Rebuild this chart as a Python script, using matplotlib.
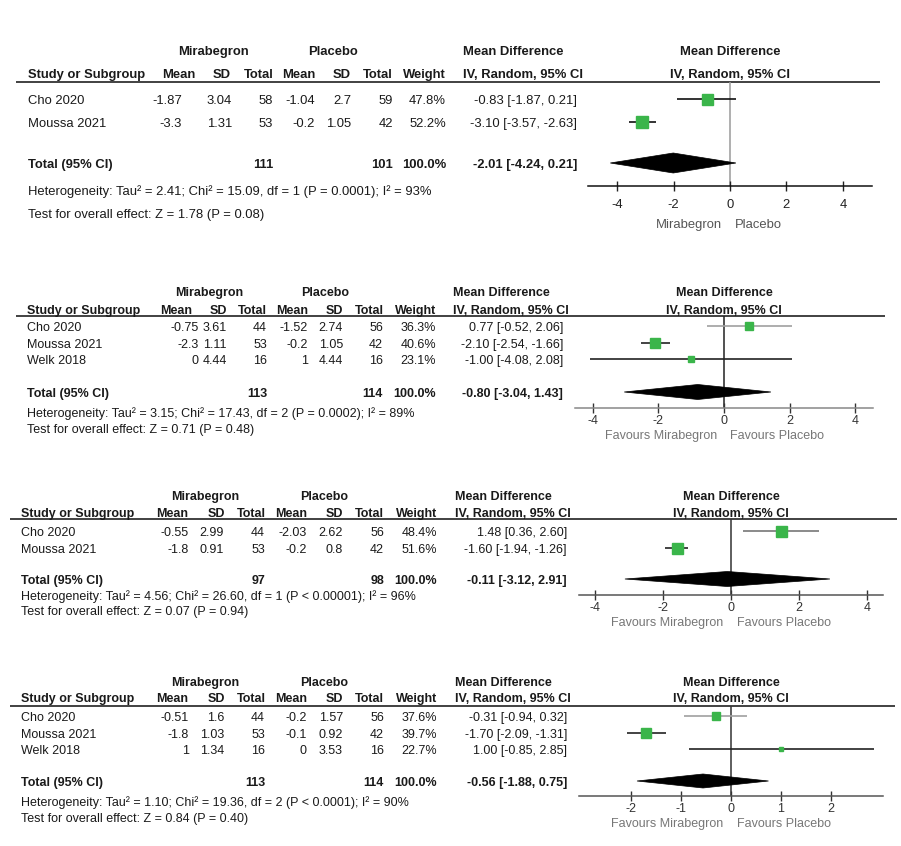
import matplotlib
matplotlib.use("Agg")
import matplotlib.pyplot as plt
from matplotlib import font_manager as fm
from matplotlib.patches import Polygon

W, H = 901, 846

# ---------------- data ----------------
p1_studies = ["Cho 2020", "Moussa 2021"]
p1_mir_mean = [-1.87, -3.3]
p1_mir_sd = [3.04, 1.31]
p1_mir_n = [58, 53]
p1_pla_mean = [-1.04, -0.2]
p1_pla_sd = [2.7, 1.05]
p1_pla_n = [59, 42]
p1_weight = [47.8, 52.2]
p1_md = [-0.83, -3.10]
p1_lo = [-1.87, -3.57]
p1_hi = [0.21, -2.63]
p1_total = [-2.01, -4.24, 0.21]
p1_total_n = [111, 101]
p1_het = "Heterogeneity: Tau² = 2.41; Chi² = 15.09, df = 1 (P = 0.0001); I² = 93%"
p1_test = "Test for overall effect: Z = 1.78 (P = 0.08)"
p1_ticks = [-4, -2, 0, 2, 4]
p1_favours = ["Mirabegron", "Placebo"]

p2_studies = ["Cho 2020", "Moussa 2021", "Welk 2018"]
p2_mir_mean = [-0.75, -2.3, 0]
p2_mir_sd = [3.61, 1.11, 4.44]
p2_mir_n = [44, 53, 16]
p2_pla_mean = [-1.52, -0.2, 1]
p2_pla_sd = [2.74, 1.05, 4.44]
p2_pla_n = [56, 42, 16]
p2_weight = [36.3, 40.6, 23.1]
p2_md = [0.77, -2.10, -1.00]
p2_lo = [-0.52, -2.54, -4.08]
p2_hi = [2.06, -1.66, 2.08]
p2_total = [-0.80, -3.04, 1.43]
p2_total_n = [113, 114]
p2_het = "Heterogeneity: Tau² = 3.15; Chi² = 17.43, df = 2 (P = 0.0002); I² = 89%"
p2_test = "Test for overall effect: Z = 0.71 (P = 0.48)"
p2_ticks = [-4, -2, 0, 2, 4]
p2_favours = ["Favours Mirabegron", "Favours Placebo"]

p3_studies = ["Cho 2020", "Moussa 2021"]
p3_mir_mean = [-0.55, -1.8]
p3_mir_sd = [2.99, 0.91]
p3_mir_n = [44, 53]
p3_pla_mean = [-2.03, -0.2]
p3_pla_sd = [2.62, 0.8]
p3_pla_n = [56, 42]
p3_weight = [48.4, 51.6]
p3_md = [1.48, -1.60]
p3_lo = [0.36, -1.94]
p3_hi = [2.60, -1.26]
p3_total = [-0.11, -3.12, 2.91]
p3_total_n = [97, 98]
p3_het = "Heterogeneity: Tau² = 4.56; Chi² = 26.60, df = 1 (P < 0.00001); I² = 96%"
p3_test = "Test for overall effect: Z = 0.07 (P = 0.94)"
p3_ticks = [-4, -2, 0, 2, 4]
p3_favours = ["Favours Mirabegron", "Favours Placebo"]

p4_studies = ["Cho 2020", "Moussa 2021", "Welk 2018"]
p4_mir_mean = [-0.51, -1.8, 1]
p4_mir_sd = [1.6, 1.03, 1.34]
p4_mir_n = [44, 53, 16]
p4_pla_mean = [-0.2, -0.1, 0]
p4_pla_sd = [1.57, 0.92, 3.53]
p4_pla_n = [56, 42, 16]
p4_weight = [37.6, 39.7, 22.7]
p4_md = [-0.31, -1.70, 1.00]
p4_lo = [-0.94, -2.09, -0.85]
p4_hi = [0.32, -1.31, 2.85]
p4_total = [-0.56, -1.88, 0.75]
p4_total_n = [113, 114]
p4_het = "Heterogeneity: Tau² = 1.10; Chi² = 19.36, df = 2 (P < 0.0001); I² = 90%"
p4_test = "Test for overall effect: Z = 0.84 (P = 0.40)"
p4_ticks = [-2, -1, 0, 1, 2]
p4_favours = ["Favours Mirabegron", "Favours Placebo"]

# ---------------- fonts ----------------
names = {f.name for f in fm.fontManager.ttflist}
if "Liberation Sans Narrow" in names:
    narrow_font = "Liberation Sans Narrow"
    narrow_size = 11.3
else:
    narrow_font = "Liberation Sans"
    narrow_size = 9.4
regular_font = "Liberation Sans" if "Liberation Sans" in names else "DejaVu Sans"
REG_FS = 9.0
CAP_HALF = 0.365  # half cap-height as fraction of the em

# ---------------- layout / style per panel ----------------
panels = [
    dict(studies=p1_studies, mm=p1_mir_mean, ms=p1_mir_sd, mn=p1_mir_n,
         pm=p1_pla_mean, ps=p1_pla_sd, pn=p1_pla_n, w=p1_weight,
         md=p1_md, lo=p1_lo, hi=p1_hi, tot=p1_total, totn=p1_total_n,
         het=p1_het, test=p1_test, ticks=p1_ticks, fav=p1_favours,
         font=narrow_font, fs=narrow_size, pad=6,
         grp_y=50, hdr_y=73, line_y=82, line_x=(16, 880), study_x=28,
         val_x=[182, 232, 273, 315, 351, 393, 446],
         hdr_x=[195, 231, 274, 315, 351, 393, 446],
         grp_cx=[213, 333], md_left=463, md_right=577, plot_cx=730,
         rows=[99, 122], tot_y=163, het_y=190, test_y=213,
         ax_x=(588, 872), ax_y=186, xlim=5.03,
         fav_y=223, fav_x=(722, 735),
         sq=[11, 12], dia_h=20, ci_col=["#111", "#111"],
         zero_col="#9a9a9a", axis_col="#111", tick_col="#222", fav_col="#555"),
    dict(studies=p2_studies, mm=p2_mir_mean, ms=p2_mir_sd, mn=p2_mir_n,
         pm=p2_pla_mean, ps=p2_pla_sd, pn=p2_pla_n, w=p2_weight,
         md=p2_md, lo=p2_lo, hi=p2_hi, tot=p2_total, totn=p2_total_n,
         het=p2_het, test=p2_test, ticks=p2_ticks, fav=p2_favours,
         font=regular_font, fs=REG_FS, pad=1.5,
         grp_y=291, hdr_y=309, line_y=316, line_x=(16, 885), study_x=27,
         val_x=[199, 227, 267, 308, 343, 383, 436],
         hdr_x=[192, 227, 267, 308, 343, 384, 436],
         grp_cx=[209, 325], md_left=453, md_right=563, plot_cx=724,
         rows=[326, 343, 359], tot_y=392, het_y=412, test_y=428,
         ax_x=(575, 873), ax_y=408, xlim=4.54,
         fav_y=434, fav_x=(717, 730),
         sq=[8, 10, 6], dia_h=15, ci_col=["#a0a0a0", "#222", "#222"],
         zero_col="#222", axis_col="#888", tick_col="#333", fav_col="#777"),
    dict(studies=p3_studies, mm=p3_mir_mean, ms=p3_mir_sd, mn=p3_mir_n,
         pm=p3_pla_mean, ps=p3_pla_sd, pn=p3_pla_n, w=p3_weight,
         md=p3_md, lo=p3_lo, hi=p3_hi, tot=p3_total, totn=p3_total_n,
         het=p3_het, test=p3_test, ticks=p3_ticks, fav=p3_favours,
         font=regular_font, fs=REG_FS, pad=1.5,
         grp_y=495, hdr_y=512, line_y=519, line_x=(10, 897), study_x=21,
         val_x=[189, 224, 265, 307, 343, 384, 437],
         hdr_x=[188, 225, 266, 307, 343, 384, 437],
         grp_cx=[205, 324], md_left=455, md_right=567, plot_cx=731,
         rows=[531, 548], tot_y=579, het_y=595, test_y=610,
         ax_x=(579, 883), ax_y=595, xlim=4.47,
         fav_y=621, fav_x=(723, 737),
         sq=[11, 11], dia_h=15, ci_col=["#777", "#222"],
         zero_col="#333", axis_col="#555", tick_col="#333", fav_col="#777"),
    dict(studies=p4_studies, mm=p4_mir_mean, ms=p4_mir_sd, mn=p4_mir_n,
         pm=p4_pla_mean, ps=p4_pla_sd, pn=p4_pla_n, w=p4_weight,
         md=p4_md, lo=p4_lo, hi=p4_hi, tot=p4_total, totn=p4_total_n,
         het=p4_het, test=p4_test, ticks=p4_ticks, fav=p4_favours,
         font=regular_font, fs=REG_FS, pad=1.5,
         grp_y=681, hdr_y=697, line_y=706, line_x=(10, 895), study_x=21,
         val_x=[189, 224, 265, 307, 343, 384, 437],
         hdr_x=[188, 225, 266, 307, 343, 384, 437],
         grp_cx=[205, 324], md_left=455, md_right=567, plot_cx=731,
         rows=[716, 733, 749], tot_y=781, het_y=801, test_y=817,
         ax_x=(579, 883), ax_y=796, xlim=3.04,
         fav_y=822, fav_x=(723, 737),
         sq=[8.5, 10, 5], dia_h=14, ci_col=["#a0a0a0", "#222", "#222"],
         zero_col="#333", axis_col="#555", tick_col="#333", fav_col="#777"),
]

GREEN = "#3ab54a"
TXT = "#1a1a1a"

fig = plt.figure(figsize=(W / 100, H / 100), dpi=100)
fig.patch.set_facecolor("white")
bg = fig.add_axes([0, 0, 1, 1])
bg.set_xlim(0, W)
bg.set_ylim(H, 0)
bg.axis("off")


def fmt(v):
    return f"{v:g}"


def put(x, y, s, **kw):
    # y is the visual centre of the capitals; place the baseline accordingly
    px = kw["size"] * 100 / 72
    base = round(y + CAP_HALF * px)
    bg.text(x, base, s, va="baseline", **kw)


hdr_cols = ["Mean", "SD", "Total", "Mean", "SD", "Total", "Weight"]

for p in panels:
    f = dict(family=p["font"], size=p["fs"], color=TXT)
    fb = dict(f, weight="bold")
    # group headers
    put(p["grp_cx"][0], p["grp_y"], "Mirabegron", ha="center", **fb)
    put(p["grp_cx"][1], p["grp_y"], "Placebo", ha="center", **fb)
    put(p["md_left"], p["grp_y"], "Mean Difference", ha="left", **fb)
    put(p["plot_cx"], p["grp_y"], "Mean Difference", ha="center", **fb)
    # column headers
    put(p["study_x"], p["hdr_y"], "Study or Subgroup", ha="left", **fb)
    for x, lab in zip(p["hdr_x"], hdr_cols):
        put(x, p["hdr_y"], lab, ha="right", **fb)
    put(p["md_left"], p["hdr_y"], "IV, Random, 95% CI", ha="left", **fb)
    put(p["plot_cx"], p["hdr_y"], "IV, Random, 95% CI", ha="center", **fb)
    # header rule
    bg.plot(p["line_x"], [p["line_y"], p["line_y"]], color="#333", lw=1.3,
            solid_capstyle="butt")
    # study rows
    for i, s in enumerate(p["studies"]):
        y = p["rows"][i]
        put(p["study_x"], y, s, ha="left", **f)
        vals = [fmt(p["mm"][i]), fmt(p["ms"][i]), str(p["mn"][i]),
                fmt(p["pm"][i]), fmt(p["ps"][i]), str(p["pn"][i]),
                f"{p['w'][i]:.1f}%"]
        for x, v in zip(p["val_x"], vals):
            put(x, y, v, ha="right", **f)
        put(p["md_right"], y,
            f"{p['md'][i]:.2f} [{p['lo'][i]:.2f}, {p['hi'][i]:.2f}]",
            ha="right", **f)
    # total row
    ty = p["tot_y"]
    put(p["study_x"], ty, "Total (95% CI)", ha="left", **fb)
    put(p["val_x"][2], ty, str(p["totn"][0]), ha="right", **fb)
    put(p["val_x"][5], ty, str(p["totn"][1]), ha="right", **fb)
    put(p["val_x"][6], ty, "100.0%", ha="right", **fb)
    t = p["tot"]
    put(p["md_right"], ty, f"{t[0]:.2f} [{t[1]:.2f}, {t[2]:.2f}]", ha="right", **fb)
    put(p["study_x"], p["het_y"], p["het"], ha="left", **f)
    put(p["study_x"], p["test_y"], p["test"], ha="left", **f)
    # favours labels
    ff = dict(f, color=p["fav_col"])
    put(p["fav_x"][0], p["fav_y"], p["fav"][0], ha="right", **ff)
    put(p["fav_x"][1], p["fav_y"], p["fav"][1], ha="left", **ff)

    # ---- forest axes ----
    x0, x1 = p["ax_x"]
    yt, yb = p["line_y"], p["ax_y"]
    ax = fig.add_axes([x0 / W, 1 - yb / H, (x1 - x0) / W, (yb - yt) / H])
    ax.patch.set_visible(False)
    ax.set_xlim(-p["xlim"], p["xlim"])
    ax.set_ylim(yb, yt)
    for sp in ["top", "left", "right"]:
        ax.spines[sp].set_visible(False)
    ax.spines["bottom"].set_color(p["axis_col"])
    ax.spines["bottom"].set_linewidth(1.1)
    ax.set_yticks([])
    ax.set_xticks(p["ticks"])
    ax.set_xticklabels([str(v) for v in p["ticks"]], family=p["font"], size=p["fs"],
                       color=p["tick_col"])
    ax.tick_params(axis="x", direction="inout", length=7, width=1.0,
                   colors=p["tick_col"], pad=p["pad"])
    ax.axvline(0, color=p["zero_col"], lw=1.1, zorder=1)
    for i in range(len(p["md"])):
        y = p["rows"][i]
        ax.hlines(y, p["lo"][i], p["hi"][i], color=p["ci_col"][i], lw=1.2, zorder=2)
        ax.plot(p["md"][i], y, marker="s", ms=p["sq"][i] * 0.72, color=GREEN,
                mec=GREEN, zorder=3, clip_on=False)
    h = p["dia_h"] / 2
    dia = Polygon([(t[1], ty), (t[0], ty - h), (t[2], ty), (t[0], ty + h)],
                  closed=True, facecolor="black", edgecolor="black", lw=0.5,
                  zorder=3, clip_on=False)
    ax.add_patch(dia)

fig.savefig("out.png", dpi=100, facecolor="white")
